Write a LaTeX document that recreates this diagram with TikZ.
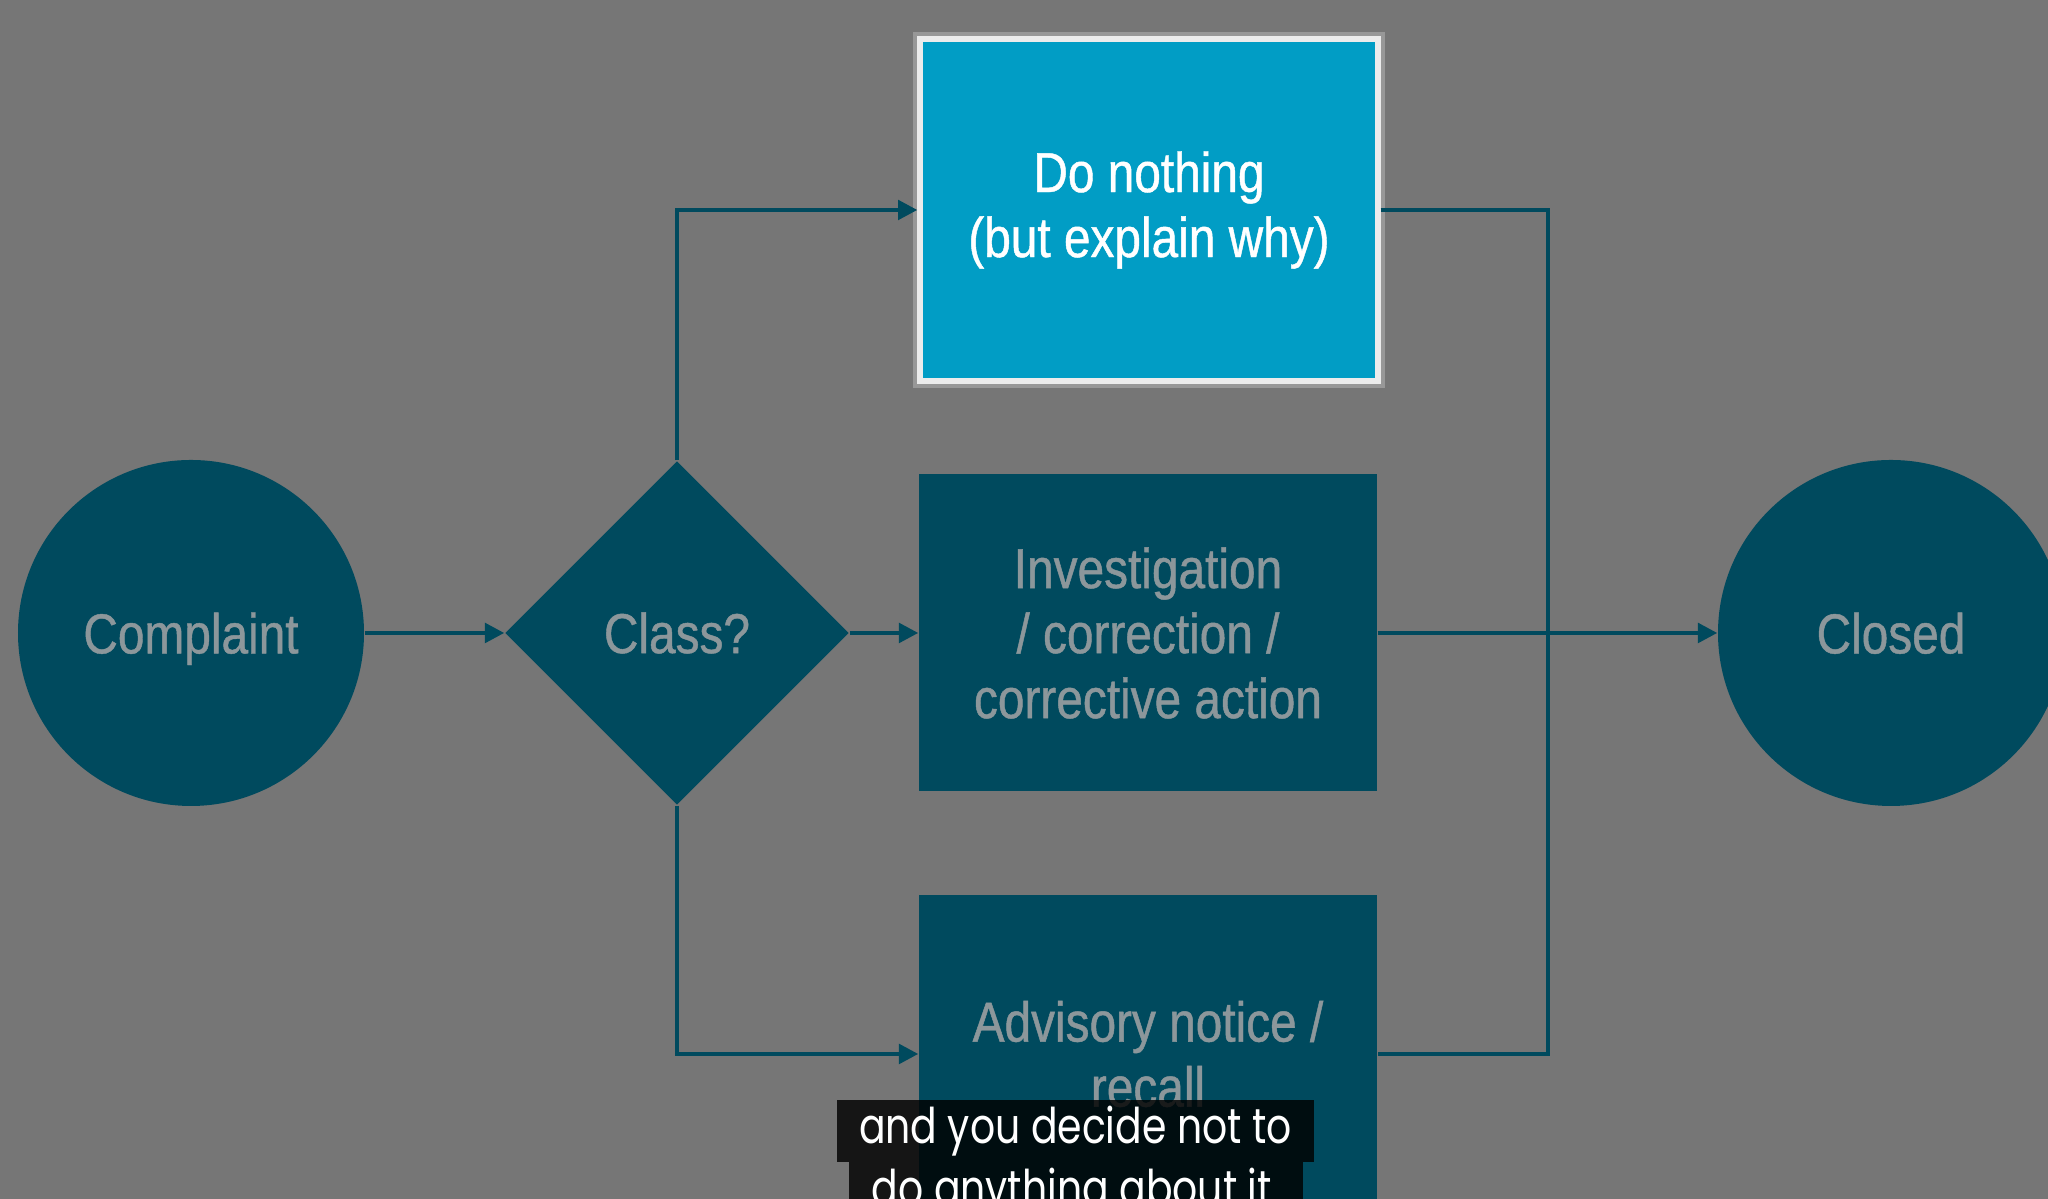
\documentclass[tikz,border=0pt]{standalone}
\usepackage{fontspec}
\setmainfont[FakeStretch=0.85,FakeBold=0.8]{Liberation Sans}
\newfontfamily\capfont[FakeStretch=0.8]{Poppins}
\usetikzlibrary{shapes.geometric,arrows.meta}

\definecolor{bgray}{HTML}{767676}
\definecolor{deepteal}{HTML}{004A5E}
\definecolor{brightteal}{HTML}{019DC5}
\definecolor{dimtext}{HTML}{8C979B}

\begin{document}
\begin{tikzpicture}[
    line/.style={draw=deepteal, line width=1.2pt},
    flow/.style={line, -{Triangle[length=5.5pt,width=5.5pt]}},
    boxfont/.style={font=\fontsize{16}{18.5}\selectfont},
    state/.style={circle, fill=deepteal, minimum size=3.46cm, text depth=0pt, text=dimtext, boxfont},
    decision/.style={diamond, aspect=1, fill=deepteal, minimum width=3.44cm, minimum height=3.44cm, inner sep=0pt, text=dimtext, boxfont},
    action/.style={rectangle, fill=deepteal, minimum width=4.58cm, minimum height=3.17cm, align=center, text=dimtext, boxfont},
    active/.style={action, fill=brightteal, text=white, minimum height=3.42cm, draw=white!85!gray, line width=1.5pt,
        preaction={draw=white, line width=4pt, opacity=0.25}},
    caption/.style={fill=black, fill opacity=0.82, text opacity=1, text=white, inner sep=0pt,
        font=\capfont\fontsize{14}{16}\selectfont}
]
\useasboundingbox (0,0) rectangle (20.48,11.99);
\clip (0,0) rectangle (20.48,11.99);
\fill[bgray] (0,0) rectangle (20.48,11.99);

% nodes
\node[state] (complaint) at (1.91,5.66) {Complaint};
\node[decision] (class) at (6.77,5.66) {Class?};
\node[active] (nothing) at (11.49,9.89) {Do nothing\\(but explain why)};
\node[action] (invest) at (11.48,5.66) {Investigation\\/ correction /\\corrective action};
\node[action] (advisory) at (11.48,1.45) {Advisory notice /\\recall};
\node[state] (closed) at (18.91,5.66) {Closed};
\coordinate (bus) at (15.48,5.66);

% connectors
\draw[flow] (complaint) -- (class);
\draw[flow] (class) -- (invest);
\draw[flow] (class.north) |- (nothing.west);
\draw[flow] (class.south) |- (advisory.west);
\draw[line] (nothing.east) -| (bus) |- (advisory.east);
\draw[flow] (invest) -- (closed);

% subtitle
\node[caption, minimum width=4.54cm, minimum height=0.62cm] (sub2) at (10.76,0.06) {do anything about it.};
\node[caption, minimum width=4.77cm, minimum height=0.62cm] (sub1) at (10.755,0.68) {and you decide not to};
\end{tikzpicture}
\end{document}
